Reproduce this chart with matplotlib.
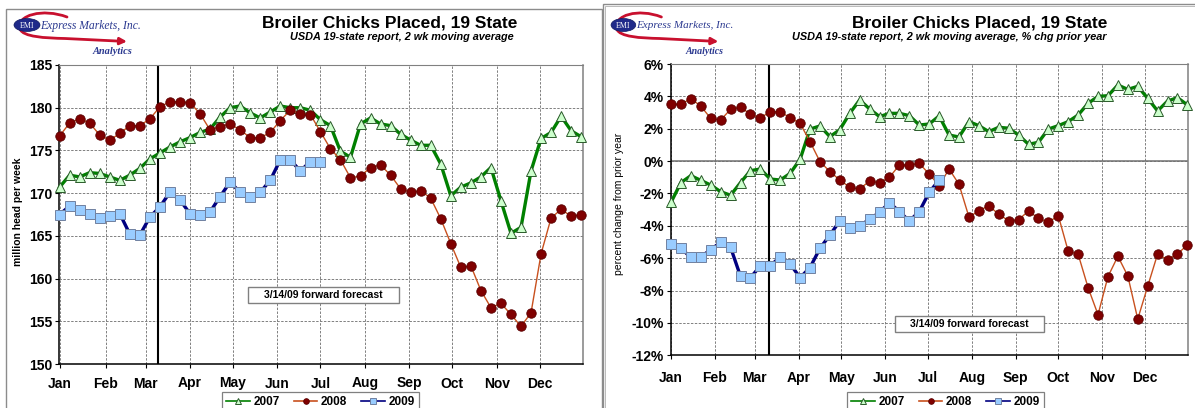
import matplotlib
matplotlib.use("Agg")
import matplotlib.pyplot as plt
from matplotlib.patches import Rectangle, Ellipse, FancyArrowPatch
from matplotlib.path import Path
from matplotlib.transforms import Affine2D
import numpy as np

plt.rcParams['font.family'] = ['Liberation Sans', 'DejaVu Sans']

# ---------------- data ----------------
months = ["Jan", "Feb", "Mar", "Apr", "May", "Jun", "Jul", "Aug", "Sep", "Oct", "Nov", "Dec"]
month_start_day = [0, 31, 59, 90, 120, 151, 181, 212, 243, 273, 304, 334]
series_names = ["2007", "2008", "2009"]

# million head per week, weekly (2 wk moving average)
head_2007 = [170.7, 172.1, 171.9, 172.4, 172.3, 171.9, 171.5, 172.1, 172.9, 174.0,
             174.7, 175.4, 176.0, 176.5, 177.1, 177.5, 178.9, 180.0, 180.2, 179.4,
             178.8, 179.5, 180.2, 180.0, 180.0, 179.7, 178.6, 177.9, 174.9, 174.2,
             178.1, 178.8, 178.1, 177.9, 176.9, 176.2, 175.6, 175.6, 173.4, 169.7,
             170.7, 171.2, 171.9, 173.0, 169.1, 165.3, 166.0, 172.6, 176.4, 177.1,
             179.0, 177.3, 176.6]
head_2008 = [176.7, 178.2, 178.7, 178.2, 176.8, 176.2, 177.0, 177.9, 177.9, 178.7,
             180.1, 180.7, 180.7, 180.6, 179.3, 177.4, 177.8, 178.1, 177.4, 176.5,
             176.5, 177.1, 178.5, 179.7, 179.3, 179.2, 177.2, 175.2, 173.9, 171.8,
             172.0, 173.0, 173.3, 172.1, 170.5, 170.1, 170.3, 169.4, 167.0, 164.1,
             161.3, 161.5, 158.6, 156.6, 157.1, 155.8, 154.4, 156.0, 162.9, 167.1,
             168.1, 167.3, 167.5]
head_2009 = [167.5, 168.5, 168.0, 167.6, 167.1, 167.3, 167.6, 165.2, 165.1, 167.2,
             168.4, 170.1, 169.2, 167.6, 167.4, 167.8, 169.6, 171.3, 170.1, 169.5,
             170.1, 171.5, 173.9, 173.9, 172.6, 173.7, 173.7]

# percent change from prior year
pct_2007 = [-2.55, -1.33, -0.90, -1.19, -1.48, -1.89, -2.11, -1.33, -0.59, -0.49,
            -1.11, -1.17, -0.76, 0.11, 1.98, 2.17, 1.51, 1.94, 2.95, 3.78,
            3.22, 2.75, 2.95, 2.95, 2.81, 2.23, 2.29, 2.79, 1.61, 1.49,
            2.44, 2.19, 1.82, 2.09, 2.03, 1.61, 1.04, 1.16, 1.98, 2.19,
            2.44, 2.85, 3.57, 4.00, 4.04, 4.70, 4.43, 4.62, 3.88, 3.10,
            3.71, 3.92, 3.47]
pct_2008 = [3.51, 3.51, 3.86, 3.40, 2.64, 2.54, 3.20, 3.34, 2.89, 2.68,
            3.05, 3.05, 2.68, 2.33, 1.20, -0.03, -0.65, -1.17, -1.62, -1.72,
            -1.23, -1.33, -1.00, -0.24, -0.24, -0.14, -0.80, -1.52, -0.49, -1.43,
            -3.45, -3.08, -2.75, -3.29, -3.68, -3.62, -3.08, -3.54, -3.78, -3.37,
            -5.57, -5.76, -7.82, -9.49, -7.14, -5.88, -7.10, -9.76, -7.74, -5.74,
            -6.09, -5.74, -5.18]
pct_2009 = [-5.14, -5.39, -5.95, -5.92, -5.47, -5.02, -5.33, -7.12, -7.20, -6.48,
            -6.48, -5.90, -6.36, -7.20, -6.58, -5.39, -4.57, -3.70, -4.11, -3.99,
            -3.60, -3.16, -2.57, -3.12, -3.70, -3.12, -1.93, -1.17]

left_yticks = [150, 155, 160, 165, 170, 175, 180, 185]
right_yticks = [-12, -10, -8, -6, -4, -2, 0, 2, 4, 6]
forecast_week = 9.85
forecast_label = "3/14/09 forward forecast"

# ---------------- figure ----------------
W, H = 1195, 408
fig = plt.figure(figsize=(W / 100, H / 100), dpi=100)
fig.patch.set_facecolor("white")
PX = Affine2D().scale(1.0 / W, -1.0 / H).translate(0, 1) + fig.transFigure

def fx(px):
    return px / W

def fy(py):
    return 1 - py / H

# panel frames
fig.add_artist(Rectangle((6, 420), 595.7, -411, transform=PX, fill=False,
                         edgecolor="#8c8c8c", lw=1.0))
fig.add_artist(Rectangle((603.3, 420), 620, -416, transform=PX, fill=False,
                         edgecolor="#8c8c8c", lw=1.0))
fig.add_artist(Rectangle((605.3, 420), 620, -414, transform=PX, fill=False,
                         edgecolor="#b0b0b0", lw=0.6))

styles = {
    "2007": dict(color="#008000", lw=2.4, marker="^", ms=7, mfc="#CCFFCC", mec="#2a5a2a", mew=0.7),
    "2008": dict(color="#C8501E", lw=1.0, marker="o", ms=6.8, mfc="#800000", mec="#5a0000", mew=0.6),
    "2009": dict(color="#000080", lw=2.4, marker="s", ms=6.5, mfc="#99CCFF", mec="#7080a0", mew=0.7),
}

def draw_logo(x0, scale=1.0):
    s = scale
    red = "#C8102E"
    path = Path([(x0 + 52 * s, 17), (x0 + 28 * s, 8), (x0 + 1 * s, 15), (x0 + 5 * s, 29),
                 (x0 + 8 * s, 37), (x0 + 30 * s, 38), (x0 + 50 * s, 38.5),
                 (x0 + 112 * s, 41.5)],
                [Path.MOVETO, Path.CURVE4, Path.CURVE4, Path.CURVE4,
                 Path.CURVE4, Path.CURVE4, Path.CURVE4, Path.LINETO])
    fig.add_artist(FancyArrowPatch(path=path, arrowstyle="-|>", mutation_scale=10,
                                   color=red, lw=2.0, transform=PX))
    fig.add_artist(Ellipse((x0 + 12 * s, 25), 26 * s, 13, transform=PX,
                           facecolor="#1F2A8A", edgecolor="#101a60", lw=0.5))
    fig.text(fx(x0 + 12 * s), fy(25.5), "EMI", color="white", fontsize=5.8,
             family="Liberation Serif", ha="center", va="center")
    fig.text(fx(x0 + 25 * s), fy(25.5), "Express Markets, Inc.", color="#2B3990",
             fontsize=8.4 * s, family="Liberation Serif", style="italic",
             ha="left", va="center")
    fig.text(fx(x0 + 97 * s), fy(52), "Analytics", color="#2B3990",
             fontsize=7.5 * s, family="Liberation Serif", style="italic",
             weight="bold", ha="center", va="center")

draw_logo(15, 1.0)
draw_logo(612, 0.95)

# titles
for xr in (517, 1107):
    fig.text(fx(xr), fy(23), "Broiler Chicks Placed, 19 State", fontsize=12.5,
             weight="bold", ha="right", va="center")
fig.text(fx(514), fy(37), "USDA 19-state report, 2 wk moving average", fontsize=7.8,
         weight="bold", style="italic", ha="right", va="center")
fig.text(fx(1107), fy(37), "USDA 19-state report, 2 wk moving average, % chg prior year",
         fontsize=7.8, weight="bold", style="italic", ha="right", va="center")

def setup_axes(ax, xmax, month_pos, yticks, ylim, yfmt, xpad):
    ax.set_xlim(-0.03, xmax)
    ax.set_ylim(*ylim)
    ax.set_xticks(month_pos)
    ax.set_xticklabels(months, fontsize=10, weight="bold")
    ax.set_yticks(yticks)
    ax.set_yticklabels([yfmt(v) for v in yticks], fontsize=10, weight="bold")
    ax.tick_params(axis="both", length=3, width=0.8, color="black", direction="out")
    ax.tick_params(axis="x", pad=xpad)
    ax.tick_params(axis="y", pad=2)
    ax.grid(True, color="#808080", lw=0.7, linestyle=(0, (2.5, 1.5)))
    ax.set_axisbelow(True)
    ax.spines["left"].set_color("black")
    ax.spines["bottom"].set_color("black")
    ax.spines["left"].set_linewidth(1.1)
    ax.spines["bottom"].set_linewidth(1.1)
    ax.spines["top"].set_color("#808080")
    ax.spines["top"].set_linewidth(0.8)
    ax.spines["right"].set_color("#808080")
    ax.spines["right"].set_linewidth(1.1)
    ax.axvline(forecast_week, color="black", lw=1.5, zorder=2)

# ---------------- left panel ----------------
axL = fig.add_axes([59.3 / W, 1 - 364 / H, (583 - 59.3) / W, (364 - 65) / H])
left_month_pos = [d / 7 + (0.15 if d > 0 else 0) for d in month_start_day]
setup_axes(axL, 52.18, left_month_pos, left_yticks, (150, 185), lambda v: f"{v}", 6)
handles = []
for name, vals in zip(series_names, [head_2007, head_2008, head_2009]):
    st = styles[name]
    ln, = axL.plot(np.arange(len(vals)), vals, zorder=3, clip_on=False, **st)
    handles.append(ln)
axL.set_ylabel("million head per week", fontsize=7.5, weight="bold")
axL.yaxis.set_label_coords(-0.07, 0.51)

fig.add_artist(Rectangle((248, 303), 151, -16, transform=PX, facecolor="white",
                         edgecolor="#808080", lw=1.0, zorder=5))
fig.text(fx(323.5), fy(295.5), forecast_label, fontsize=7.5, weight="bold",
         ha="center", va="center", zorder=6)

# ---------------- right panel ----------------
axR = fig.add_axes([670.7 / W, 1 - 355.3 / H, (1187.7 - 670.7) / W, (355.3 - 64) / H])
right_month_pos = [d / 7 for d in month_start_day]
setup_axes(axR, 52.03, right_month_pos, right_yticks, (-12, 6), lambda v: f"{v}%", 8)
axR.axhline(0, color="#707070", lw=1.1, zorder=2)
for name, vals in zip(series_names, [pct_2007, pct_2008, pct_2009]):
    st = styles[name]
    axR.plot(np.arange(len(vals)), vals, zorder=3, clip_on=False, **st)
axR.set_ylabel("percent change from prior year", fontsize=7.5)
axR.yaxis.set_label_coords(-0.09, 0.52)

fig.add_artist(Rectangle((894.7, 332.3), 149.6, -16.6, transform=PX, facecolor="white",
                         edgecolor="#808080", lw=1.0, zorder=5))
fig.text(fx(969.5), fy(324), forecast_label, fontsize=7.5, weight="bold",
         ha="center", va="center", zorder=6)

# ---------------- legends ----------------
for cx in (320.5, 945.5):
    leg = fig.legend(handles, series_names, loc="upper center",
                     bbox_to_anchor=(fx(cx), fy(392)), ncol=3, frameon=True,
                     fancybox=False, edgecolor="#606060",
                     prop=dict(weight="bold", size=8.5), handlelength=2.0,
                     markerscale=0.6, columnspacing=1.2, handletextpad=0.3,
                     borderpad=0.35, borderaxespad=0)
    leg.get_frame().set_linewidth(0.9)
    for h in leg.legend_handles:
        h.set_linewidth(1.2)

fig.savefig("out.png", dpi=100, facecolor="white")
